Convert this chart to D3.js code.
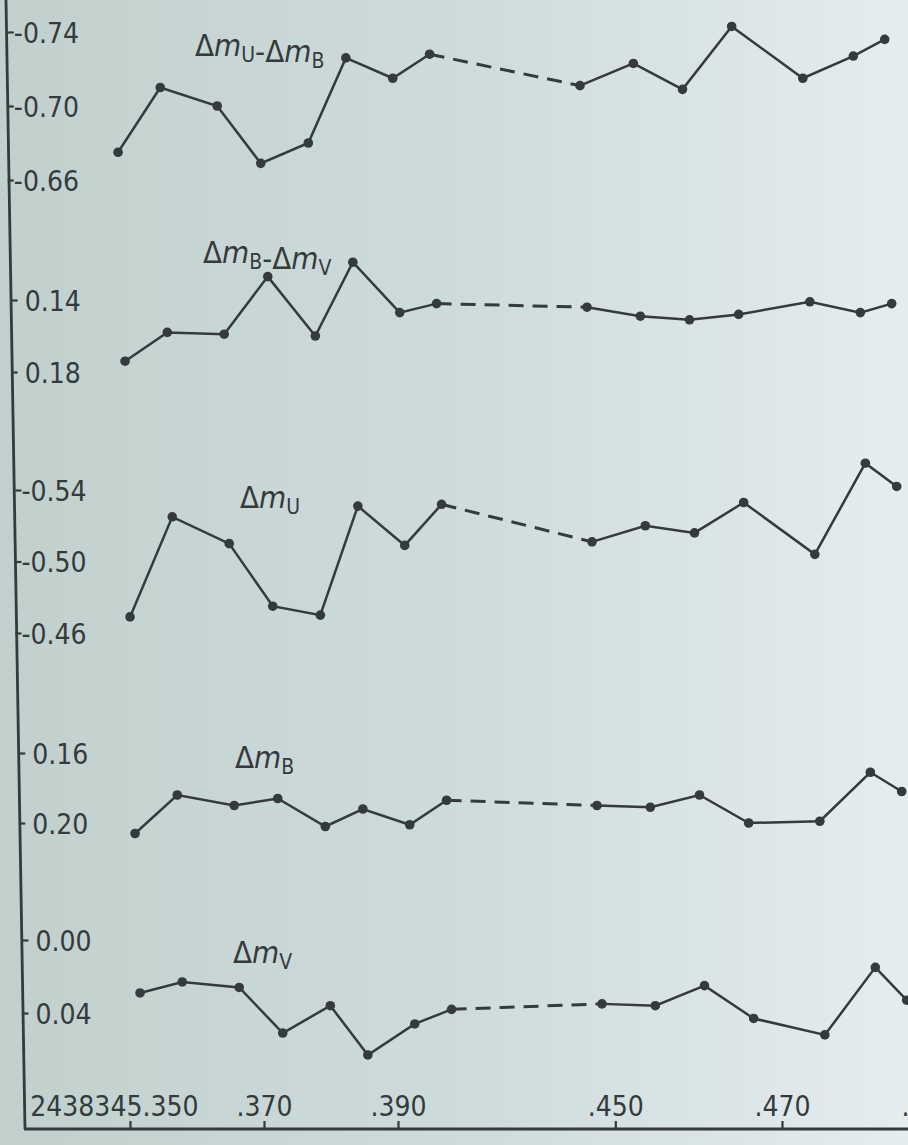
<!DOCTYPE html>
<html>
<head>
<meta charset="utf-8">
<script src="https://cdn.jsdelivr.net/npm/d3@7"></script>
<style>
  html, body { margin: 0; padding: 0; background: #cdd9d9; }
  svg { display: block; }
  .tick text { font-family: "DejaVu Sans Condensed", "Liberation Sans Narrow", sans-serif; fill: #353a3c; }
</style>
</head>
<body>
<svg id="chart"></svg>
<script>
// Julian dates (fraction after 2438345) of the observations
const dates = [0.3515, 0.3578, 0.3663, 0.3728, 0.3799, 0.3855, 0.3925, 0.3980,
  0.4484, 0.4548, 0.4607, 0.4666, 0.4756, 0.4822, 0.4863];

// series values
const uMinusB = [-0.675, -0.710, -0.700, -0.669, -0.680, -0.726, -0.715, -0.728,
  -0.711, -0.723, -0.709, -0.743, -0.715, -0.727, -0.736];
const bMinusV = [0.174, 0.158, 0.159, 0.127, 0.160, 0.119, 0.147, 0.142,
  0.144, 0.149, 0.151, 0.148, 0.141, 0.147, 0.142];
const deltaU = [-0.469, -0.525, -0.510, -0.475, -0.470, -0.531, -0.509, -0.532,
  -0.511, -0.520, -0.516, -0.533, -0.504, -0.555, -0.542];
const deltaB = [0.206, 0.184, 0.190, 0.186, 0.202, 0.192, 0.201, 0.187,
  0.190, 0.191, 0.184, 0.200, 0.199, 0.171, 0.182];
const deltaV = [0.029, 0.023, 0.026, 0.051, 0.036, 0.063, 0.046, 0.038,
  0.035, 0.036, 0.025, 0.043, 0.052, 0.015, 0.033];

// tick values and labels
const xTicks = [0.350, 0.370, 0.390, 0.450, 0.470, 0.490];
const xTickLabels = ["2438345.350", ".370", ".390", ".450", ".470", ".490"];
const ticksUB = [-0.74, -0.70, -0.66];
const ticksBV = [0.14, 0.18];
const ticksU = [-0.54, -0.50, -0.46];
const ticksB = [0.16, 0.20];
const ticksV = [0.00, 0.04];

// index where the observing gap is (drawn dashed)
const gapAfter = 7;

const width = 908, height = 1145;
const ink = "#353a3c";
const xAxisY = 1129;

const svg = d3.select("#chart").attr("width", width).attr("height", height);

// paper background, lighter toward the right
const grad = svg.append("defs").append("linearGradient")
  .attr("id", "paper").attr("x1", 0).attr("x2", 1).attr("y1", 0).attr("y2", 0);
grad.append("stop").attr("offset", "0%").attr("stop-color", "#c2d0cd");
grad.append("stop").attr("offset", "50%").attr("stop-color", "#cddbdb");
grad.append("stop").attr("offset", "82%").attr("stop-color", "#dce6e8");
grad.append("stop").attr("offset", "100%").attr("stop-color", "#e6edee");
svg.append("rect").attr("width", width).attr("height", height).attr("fill", "url(#paper)");

// broken time axis: the gap between .400 and .440 is squeezed
const x = d3.scaleLinear()
  .domain([0.350, 0.400, 0.440, 0.470, 0.490])
  .range([130, 465, 532, 782, 935]);

// panels, top to bottom; dx follows the slant of the photographed page
const panels = [
  { values: uMinusB, ticks: ticksUB, range: [32, 180], dx: -22, label: ["U", "B"], lx: 195, ly: 56 },
  { values: bMinusV, ticks: ticksBV, range: [300, 372], dx: -15, label: ["B", "V"], lx: 203, ly: 263 },
  { values: deltaU, ticks: ticksU, range: [490, 633], dx: -10, label: ["U"], lx: 240, ly: 508 },
  { values: deltaB, ticks: ticksB, range: [753, 823], dx: -5, label: ["B"], lx: 235, ly: 768 },
  { values: deltaV, ticks: ticksV, range: [940, 1013], dx: 0, label: ["V"], lx: 233, ly: 963 },
];

const axisTop = 6, axisBottom = 25;
const axisXAt = (y) => axisTop + (axisBottom - axisTop) * (y / xAxisY);
const fmt = (d) => d3.format(".2f")(d).replace("−", "-");

// the vertical axis line
svg.append("line")
  .attr("x1", axisTop).attr("y1", 0)
  .attr("x2", axisBottom).attr("y2", xAxisY)
  .attr("stroke", ink).attr("stroke-width", 2.8);

const line = d3.line().x((d) => x(d[0])).y((d) => d[1]);

panels.forEach((p) => {
  const y = d3.scaleLinear().domain([p.ticks[0], p.ticks[p.ticks.length - 1]]).range(p.range);
  const ax = axisXAt((p.range[0] + p.range[1]) / 2);

  // y axis ticks and labels
  const yAxisG = svg.append("g")
    .attr("transform", `translate(${ax},0)`)
    .call(d3.axisLeft(y).tickValues(p.ticks).tickSize(-6).tickFormat(fmt));
  yAxisG.select(".domain").remove();
  yAxisG.selectAll(".tick line").attr("stroke", ink).attr("stroke-width", 2.2);
  yAxisG.selectAll(".tick text")
    .attr("text-anchor", "start")
    .attr("x", (d) => (d < 0 ? 6 : 13))
    .attr("dy", "0.36em")
    .style("font-size", "28px");

  const g = svg.append("g").attr("transform", `translate(${p.dx},0)`);
  const pts = dates.map((d, i) => [d, y(p.values[i])]);

  g.append("path")
    .datum(pts.slice(0, gapAfter + 1))
    .attr("d", line).attr("fill", "none").attr("stroke", ink).attr("stroke-width", 2.5);
  g.append("path")
    .datum(pts.slice(gapAfter, gapAfter + 2))
    .attr("d", line).attr("fill", "none").attr("stroke", ink).attr("stroke-width", 3)
    .attr("stroke-dasharray", "15,9");
  g.append("path")
    .datum(pts.slice(gapAfter + 1))
    .attr("d", line).attr("fill", "none").attr("stroke", ink).attr("stroke-width", 2.5);

  g.selectAll("circle")
    .data(pts)
    .join("circle")
    .attr("cx", (d) => x(d[0]))
    .attr("cy", (d) => d[1])
    .attr("r", 4.8)
    .attr("fill", ink);

  // panel title, e.g. Δm_U - Δm_B
  const t = svg.append("text")
    .attr("x", p.lx).attr("y", p.ly)
    .attr("fill", ink)
    .style("font-family", "'DejaVu Sans Condensed', 'Liberation Sans Narrow', sans-serif")
    .style("font-size", "31px");
  p.label.forEach((sub, i) => {
    t.append("tspan").text(i === 0 ? "Δ" : "-Δ");
    t.append("tspan").style("font-style", "italic").text("m");
    t.append("tspan").attr("dy", 6).style("font-size", "21px").text(sub);
    t.append("tspan").attr("dy", -6).text("");
  });
});

// bottom time axis, tick labels sit above the line
const xAxisG = svg.append("g")
  .attr("transform", `translate(0,${xAxisY})`)
  .call(d3.axisBottom(x).tickValues(xTicks).tickSize(-8)
    .tickFormat((d, i) => xTickLabels[i]));
xAxisG.select(".domain").remove();
xAxisG.selectAll(".tick line").attr("stroke", ink).attr("stroke-width", 2.2);
xAxisG.selectAll(".tick text")
  .attr("y", -13)
  .attr("dy", 0)
  .attr("text-anchor", (d, i) => (i === 0 ? "end" : "middle"))
  .attr("x", (d, i) => (i === 0 ? 68 : i === xTicks.length - 1 ? -6 : 0))
  .style("font-size", "28px");

svg.append("line")
  .attr("x1", axisBottom - 1).attr("y1", xAxisY)
  .attr("x2", width).attr("y2", xAxisY)
  .attr("stroke", ink).attr("stroke-width", 2.8);
</script>
</body>
</html>
